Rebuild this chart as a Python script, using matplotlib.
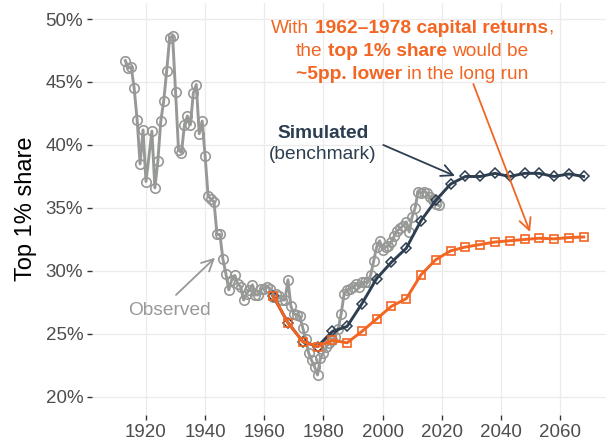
import matplotlib
matplotlib.use('Agg')
import matplotlib.pyplot as plt
from matplotlib.transforms import offset_copy
from matplotlib.ticker import FuncFormatter

plt.rcParams['font.family'] = ['Liberation Sans', 'DejaVu Sans']

# ---------------- data ----------------
obs_years = [1913, 1914, 1915, 1916, 1917, 1918, 1919, 1920, 1922, 1923, 1924, 1925,
             1926, 1927, 1928, 1929, 1930, 1931, 1932, 1933, 1934, 1935, 1936, 1937,
             1938, 1939, 1940, 1941, 1942, 1943, 1944, 1945, 1946, 1947, 1948, 1949,
             1950, 1951, 1952, 1953, 1954, 1955, 1956, 1957, 1958, 1959, 1960, 1961,
             1962, 1963, 1964, 1965, 1966, 1967, 1968, 1969, 1970, 1971, 1972, 1973,
             1974, 1975, 1976, 1977, 1978, 1979, 1980, 1981, 1982, 1983, 1984, 1985,
             1986, 1987, 1988, 1989, 1990, 1991, 1992, 1993, 1994, 1995, 1996, 1997,
             1998, 1999, 2000, 2001, 2002, 2003, 2004, 2005, 2006, 2007, 2008, 2009,
             2010, 2011, 2012, 2013, 2014, 2015, 2016, 2017, 2018, 2019]
obs_vals = [46.7, 46.1, 46.2, 44.5, 42.0, 38.5, 41.2, 37.1, 41.1, 36.6, 38.7, 41.9,
            43.5, 45.9, 48.5, 48.65, 44.2, 39.6, 39.4, 41.6, 42.3, 41.6, 44.1, 44.8,
            40.9, 41.9, 39.1, 35.95, 35.7, 35.5, 32.9, 32.9, 30.95, 29.8, 28.5, 29.3,
            29.65, 29.0, 28.75, 27.7, 28.2, 28.5, 28.9, 28.1, 28.1, 28.6, 28.6, 28.75,
            28.6, 27.95, 28.2, 28.0, 27.7, 27.7, 29.3, 27.2, 26.6, 26.5, 26.4, 25.5,
            24.6, 23.5, 22.9, 22.4, 21.75, 23.1, 23.5, 24.0, 24.3, 24.5, 24.8, 25.4,
            26.6, 28.2, 28.5, 28.6, 28.7, 29.0, 28.7, 29.1, 29.1, 29.1, 29.7, 30.8,
            31.9, 32.4, 31.7, 31.9, 32.0, 32.3, 32.8, 33.2, 33.4, 33.6, 33.9, 33.1,
            34.3, 35.0, 36.3, 36.2, 36.3, 36.2, 35.9, 35.6, 35.3, 35.2]

sim_years = [1963, 1968, 1973, 1978, 1983, 1988, 1993, 1998, 2003, 2008, 2013,
             2018, 2023, 2028, 2033, 2038, 2043, 2048, 2053, 2058, 2063, 2068]
bench_vals = [28.0, 25.9, 24.4, 24.0, 25.2, 25.6, 27.4, 29.4, 30.7, 31.8, 34.0,
              35.6, 36.9, 37.5, 37.5, 37.75, 37.5, 37.75, 37.75, 37.5, 37.7, 37.5]
alt_vals = [28.0, 25.9, 24.4, 24.0, 24.5, 24.3, 25.2, 26.2, 27.2, 27.8, 29.7,
            30.9, 31.6, 31.9, 32.1, 32.3, 32.4, 32.5, 32.6, 32.55, 32.65, 32.7]

x_ticks = [1920, 1940, 1960, 1980, 2000, 2020, 2040, 2060]
y_ticks = [20, 25, 30, 35, 40, 45, 50]

GRAY = '#979996'
DARK = '#2c3e50'
ORANGE = '#f26522'

# ---------------- figure ----------------
W, H = 616, 447
fig = plt.figure(figsize=(W / 100, H / 100), dpi=100)
ax = fig.add_axes([92 / W, (H - 415) / H, (606 - 92) / W, (415 - 3) / H])

ax.set_xlim(1901.74, 2075.56)
ax.set_ylim(18.57, 51.27)

for s in ax.spines.values():
    s.set_visible(False)
ax.grid(True, color='#ebebeb', linewidth=0.9)
ax.set_axisbelow(True)
ax.set_xticks(x_ticks)
ax.set_yticks(y_ticks)
ax.yaxis.set_major_formatter(FuncFormatter(lambda v, p: f"{int(v)}%"))
ax.tick_params(axis='both', length=3.3, width=1.0, color='#333333',
               labelsize=13.5, labelcolor='#4d4d4d', pad=3)
ax.set_ylabel('Top 1% share', fontsize=17, color='black', labelpad=6)

# series
ax.plot(obs_years, obs_vals, color=GRAY, lw=2.1, marker='o', ms=6.8,
        mfc='none', mec=GRAY, mew=1.2, zorder=3)
ax.plot(sim_years, bench_vals, color=DARK, lw=2.1, marker='D', ms=5.6,
        mfc='none', mec=DARK, mew=1.1, zorder=4)
ax.plot(sim_years, alt_vals, color=ORANGE, lw=2.1, marker='s', ms=6.0,
        mfc='none', mec=ORANGE, mew=1.2, zorder=5)

# arrows
def arrow(tail, head, color):
    ax.annotate('', xy=head, xytext=tail,
                arrowprops=dict(arrowstyle='->,head_length=0.6,head_width=0.3',
                                color=color, lw=1.3, mutation_scale=14,
                                shrinkA=0, shrinkB=0), zorder=6)

arrow((1930.15, 28.1), (1943.33, 31.05), GRAY)
arrow((2000.25, 40.0), (2024.5, 37.54), DARK)
arrow((2030.7, 44.84), (2049.86, 33.1), ORANGE)

# simple labels
ax.text(1928.0, 26.5, 'Observed', color=GRAY, fontsize=13.8, ha='center', va='baseline')
ax.text(1979.9, 40.56, 'Simulated', color=DARK, fontsize=13.8, fontweight='bold',
        ha='center', va='baseline')
ax.text(1979.9, 38.89, '(benchmark)', color=DARK, fontsize=13.8,
        ha='center', va='baseline')

# rich (mixed weight) lines
fig.canvas.draw()
renderer = fig.canvas.get_renderer()

def measure(s, weight, size):
    t = ax.text(0, 0, s, fontsize=size, fontweight=weight)
    w = t.get_window_extent(renderer).width
    t.remove()
    return w

def rich_line(x, y, parts, color, size=13.8):
    sp = {wt: measure('a a', wt, size) - measure('aa', wt, size) for wt in ('normal', 'bold')}
    items = []
    total = 0.0
    for text, wt in parts:
        lead = len(text) - len(text.lstrip(' '))
        trail = len(text) - len(text.rstrip(' '))
        core = text.strip(' ')
        cw = measure(core, wt, size) if core else 0.0
        items.append((lead * sp[wt], core, wt, cw, trail * sp[wt]))
        total += lead * sp[wt] + cw + trail * sp[wt]
    cursor = -total / 2
    for lead_w, core, wt, cw, trail_w in items:
        cursor += lead_w
        tr = offset_copy(ax.transData, fig=fig, x=cursor, y=0, units='dots')
        ax.text(x, y, core, transform=tr, color=color, fontsize=size,
                fontweight=wt, ha='left', va='baseline')
        cursor += cw + trail_w

cx = 2010.05
rich_line(cx, 48.89, [('With ', 'normal'), ('1962\u20131978 capital returns', 'bold'),
                      (',', 'normal')], ORANGE)
rich_line(cx, 47.06, [('the ', 'normal'), ('top 1% share', 'bold'),
                      (' would be', 'normal')], ORANGE)
rich_line(cx, 45.24, [('~5pp. lower', 'bold'), (' in the long run', 'normal')], ORANGE)

fig.savefig('out.png', dpi=100)
